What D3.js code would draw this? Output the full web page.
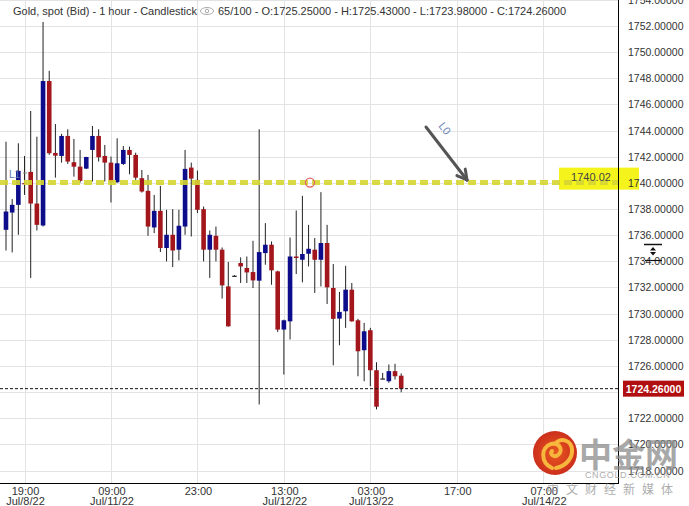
<!DOCTYPE html>
<html>
<head>
<meta charset="utf-8">
<script src="https://cdn.jsdelivr.net/npm/d3@7"></script>
<style>
  body { margin: 0; background: #fff; }
  svg { display: block; font-family: "Liberation Sans", Arial, sans-serif; }
</style>
</head>
<body>
<div class="canvas"></div>
<script>
// hourly candles, Jul 8 16:00 .. Jul 13 ~04:00 (65 bars)
const opens = [1736.41,1737.73,1738.32,1739.98,1740.84,1738.42,1736.74,1747.79,1742.29,1742.06,
  1743.59,1741.58,1741.24,1741.09,1742.52,1743.59,1742.06,1741.55,1740.05,1741.45,
  1742.52,1742.14,1740.36,1739.39,1736.59,1737.86,1735.02,1736.03,1734.89,1736.66,
  1741.17,1740.23,1737.99,1734.89,1735.95,1734.89,1732.08,1732.90,1733.87,1733.49,
  1733.18,1732.52,1734.63,1735.27,1733.23,1728.78,1729.41,1734.37,1734.12,1734.58,
  1734.89,1734.12,1735.40,1731.96,1729.62,1730.18,1731.83,1729.49,1727.20,1728.73,
  1725.67,1725.04,1724.83,1725.60,1725.25];
const highs = [1743.15,1738.76,1743.03,1742.06,1745.50,1743.53,1752.31,1748.57,1744.50,1743.75,
  1744.10,1743.36,1742.52,1742.00,1744.35,1744.10,1742.90,1742.01,1743.41,1742.82,
  1742.77,1742.31,1740.99,1740.61,1739.08,1739.77,1737.94,1737.99,1737.94,1742.52,
  1741.55,1740.94,1738.19,1736.36,1736.66,1735.06,1733.95,1732.95,1734.30,1734.37,
  1735.57,1744.10,1736.92,1735.52,1733.28,1729.54,1735.82,1737.89,1739.01,1736.79,
  1735.78,1739.29,1736.79,1733.79,1731.66,1733.66,1732.34,1729.60,1729.29,1728.91,
  1726.28,1725.47,1726.11,1726.16,1725.43];
const lows = [1734.83,1734.68,1736.03,1739.08,1732.73,1736.36,1736.66,1742.14,1740.40,1741.55,
  1741.45,1740.48,1740.02,1741.05,1740.10,1741.63,1740.10,1738.50,1740.00,1741.37,
  1740.66,1740.23,1739.26,1735.95,1736.16,1734.71,1733.99,1733.56,1734.07,1736.03,
  1735.90,1737.69,1733.99,1732.73,1733.99,1731.15,1729.00,1732.85,1732.34,1732.34,
  1731.96,1723.05,1733.74,1732.21,1728.60,1725.34,1728.02,1733.03,1732.39,1733.61,
  1731.58,1732.08,1730.74,1726.05,1727.58,1728.91,1729.38,1725.21,1724.83,1724.45,
  1722.67,1725.00,1724.71,1724.96,1723.98];
const closes = [1737.81,1738.32,1740.92,1739.96,1738.42,1736.79,1747.79,1742.27,1742.08,1743.59,
  1741.63,1741.24,1740.15,1741.98,1743.59,1741.96,1741.55,1740.05,1741.50,1742.52,
  1742.14,1740.40,1739.34,1736.66,1737.86,1735.02,1736.03,1734.83,1736.72,1741.07,
  1740.33,1737.94,1734.89,1736.03,1734.89,1732.16,1729.03,1732.90,1733.61,1733.15,
  1732.54,1734.71,1735.27,1733.31,1728.78,1729.49,1734.37,1734.25,1734.56,1734.96,
  1734.12,1735.40,1732.01,1729.60,1730.13,1731.83,1729.41,1727.12,1728.65,1725.67,
  1722.88,1725.04,1725.60,1725.21,1724.26];

// x axis: bar index of each label
const tickIdx = [3, 17, 31, 45, 59, 73, 87];
const timeLabels = ["19:00", "09:00", "23:00", "13:00", "03:00", "17:00", "07:00"];
const dateLabels = ["Jul/8/22", "Jul/11/22", "", "Jul/12/22", "Jul/13/22", "", "Jul/14/22"];
const priceTicks = d3.range(1718, 1756, 2);

const lineLevel = 1740.02;
const lastPrice = 1724.26;
const header1 = "Gold, spot (Bid) - 1 hour - Candlestick";
const header2 = "65/100 - O:1725.25000 - H:1725.43000 - L:1723.98000 - C:1724.26000";

const W = 689, H = 506;
const plotRight = 618, plotBottom = 483;

const svg = d3.select(".canvas").append("svg").attr("width", W).attr("height", H);
svg.append("rect").attr("width", W).attr("height", H).attr("fill", "#fff");

let x = d3.scaleLinear().domain([0, 64]).range([6, 401.2]);
let y = d3.scaleLinear().domain([1718, 1752]).range([470.5, 26]);

// grid
svg.append("g").selectAll("line").data(priceTicks).join("line")
  .attr("x1", 0).attr("x2", plotRight)
  .attr("y1", (d) => Math.round(y(d)) + 0.5).attr("y2", (d) => Math.round(y(d)) + 0.5)
  .attr("stroke", "#e3e3e3");
svg.append("g").selectAll("line").data(tickIdx).join("line")
  .attr("x1", (d) => Math.round(x(d)) + 0.5).attr("x2", (d) => Math.round(x(d)) + 0.5)
  .attr("y1", 0).attr("y2", plotBottom)
  .attr("stroke", "#e3e3e3");

// header
svg.append("text").attr("x", 13).attr("y", 15).attr("font-size", 11).attr("fill", "#333").text(header1);
let eye = svg.append("g").attr("transform", "translate(207,11)");
eye.append("ellipse").attr("rx", 6.5).attr("ry", 3.5).attr("fill", "none").attr("stroke", "#aaa");
eye.append("circle").attr("r", 1.8).attr("fill", "none").attr("stroke", "#aaa");
svg.append("text").attr("x", 218).attr("y", 15).attr("font-size", 11).attr("fill", "#333").text(header2);

// candles
const candles = opens.map((o, i) => ({ i: i, o: o, h: highs[i], l: lows[i], c: closes[i] }));
const bodyW = 4.6;
const colour = (d) => d.c > d.o ? "#0d0d8c" : (d.c < d.o ? "#a3161b" : "#222");

let g = svg.append("g");
g.selectAll("line.wick").data(candles).join("line").attr("class", "wick")
  .attr("x1", (d) => x(d.i)).attr("x2", (d) => x(d.i))
  .attr("y1", (d) => y(d.h)).attr("y2", (d) => y(d.l))
  .attr("stroke", "#222").attr("stroke-width", 1);
g.selectAll("rect").data(candles).join("rect")
  .attr("x", (d) => x(d.i) - bodyW / 2)
  .attr("y", (d) => y(Math.max(d.o, d.c)))
  .attr("width", bodyW)
  .attr("height", (d) => Math.max(1.2, Math.abs(y(d.o) - y(d.c))))
  .attr("fill", colour);

// current price dotted line
svg.append("line").attr("x1", 0).attr("x2", plotRight)
  .attr("y1", y(lastPrice)).attr("y2", y(lastPrice))
  .attr("stroke", "#111").attr("stroke-dasharray", "3,2");

// yellow level line + label
svg.append("rect").attr("x", 559).attr("y", y(lineLevel) - 15).attr("width", 80).attr("height", 22)
  .attr("fill", "#f4f41c");
svg.append("line").attr("x1", 0).attr("x2", plotRight)
  .attr("y1", y(lineLevel)).attr("y2", y(lineLevel))
  .attr("stroke", "#d6d633").attr("stroke-width", 5).attr("stroke-dasharray", "8,4").attr("opacity", 0.9);
svg.append("text").attr("x", 591).attr("y", y(lineLevel) - 2).attr("text-anchor", "middle")
  .attr("font-size", 11).attr("fill", "#444").text(lineLevel.toFixed(2));
svg.append("circle").attr("cx", 310).attr("cy", y(lineLevel)).attr("r", 4.5)
  .attr("fill", "none").attr("stroke", "#e06666").attr("stroke-width", 1.3);

// L1 marker at left
svg.append("text").attr("x", 9).attr("y", 178).attr("font-size", 10).attr("fill", "#5a78b0").text("L1");
svg.append("line").attr("x1", 23).attr("x2", 27).attr("y1", 173).attr("y2", 173).attr("stroke", "#888");

// arrow pointing at the line
let ax1 = 426, ay1 = 127, ax2 = 467, ay2 = 180;
svg.append("line").attr("x1", ax1).attr("y1", ay1).attr("x2", ax2).attr("y2", ay2)
  .attr("stroke", "#555").attr("stroke-width", 3).attr("stroke-linecap", "round");
let ang = Math.atan2(ay2 - ay1, ax2 - ax1);
[-0.5, 0.5].forEach((a) => {
  svg.append("line").attr("x1", ax2).attr("y1", ay2)
    .attr("x2", ax2 - 11 * Math.cos(ang + a)).attr("y2", ay2 - 11 * Math.sin(ang + a))
    .attr("stroke", "#555").attr("stroke-width", 3).attr("stroke-linecap", "round");
});
svg.append("text").attr("transform", "translate(438,126) rotate(52)")
  .attr("font-size", 11).attr("fill", "#6f86b8").text("L0");

// axes frame
svg.append("line").attr("x1", plotRight + 0.5).attr("x2", plotRight + 0.5).attr("y1", 0).attr("y2", plotBottom + 1)
  .attr("stroke", "#000");
svg.append("line").attr("x1", 0).attr("x2", plotRight + 1).attr("y1", plotBottom + 0.5).attr("y2", plotBottom + 0.5)
  .attr("stroke", "#000");

// right axis labels
svg.append("g").selectAll("text").data(priceTicks).join("text")
  .attr("x", 628).attr("y", (d) => y(d) + 4)
  .attr("font-size", 10.5).attr("fill", "#333")
  .text((d) => d.toFixed(5));

// last price tag
svg.append("rect").attr("x", 623).attr("y", y(lastPrice) - 8).attr("width", 61).attr("height", 16).attr("fill", "#b10f0f");
svg.append("text").attr("x", 653.5).attr("y", y(lastPrice) + 4).attr("text-anchor", "middle")
  .attr("font-size", 10.5).attr("font-weight", "bold").attr("fill", "#fff").text(lastPrice.toFixed(5));

// scale handle icon
let ic = svg.append("g").attr("stroke", "#111");
ic.append("line").attr("x1", 644).attr("x2", 662).attr("y1", 244.5).attr("y2", 244.5).attr("stroke-width", 1.5);
ic.append("line").attr("x1", 645).attr("x2", 662).attr("y1", 260.5).attr("y2", 260.5).attr("stroke-width", 1.2);
ic.append("path").attr("d", "M650,250.5 L653,247 L656,250.5 Z M650,252 L653,255.5 L656,252 Z").attr("fill", "#111").attr("stroke", "none");

// bottom axis labels
let xl = svg.append("g").attr("font-size", 11).attr("fill", "#333").attr("text-anchor", "middle");
xl.selectAll("text.t").data(tickIdx).join("text").attr("class", "t")
  .attr("x", (d) => x(d) + 1).attr("y", 495).text((d, i) => timeLabels[i]);
xl.selectAll("text.d").data(tickIdx).join("text").attr("class", "d")
  .attr("x", (d) => x(d) + 1).attr("y", 505).text((d, i) => dateLabels[i]);

// watermark
let wm = svg.append("g");
let grad = svg.append("defs").append("radialGradient").attr("id", "wmg");
grad.append("stop").attr("offset", "0%").attr("stop-color", "#e8581f");
grad.append("stop").attr("offset", "100%").attr("stop-color", "#cc2f1c");
wm.append("circle").attr("cx", 555).attr("cy", 453).attr("r", 22).attr("fill", "url(#wmg)");
wm.append("path")
  .attr("d", "M552,468 C540,462 541,447 551,444 C559,442 564,450 558,455 C554,458 549,454 552,451 M556,443 C562,437 571,441 572,449 C573,458 566,466 556,468")
  .attr("fill", "none").attr("stroke", "#f7b63c").attr("stroke-width", 4).attr("stroke-linecap", "round");
wm.append("text").attr("x", 579).attr("y", 467).attr("font-family", "Noto Sans CJK SC")
  .attr("font-size", 33).attr("font-weight", "bold").attr("fill", "#8c8c8c").attr("opacity", 0.75).text("中金网");
wm.append("text").attr("x", 585).attr("y", 478).attr("font-size", 9).attr("letter-spacing", 0.6)
  .attr("fill", "#9a9a9a").attr("opacity", 0.8).text("CNGOLD.COM.CN");
wm.append("text").attr("x", 547).attr("y", 494).attr("font-family", "Noto Sans CJK SC")
  .attr("font-size", 12).attr("letter-spacing", 7).attr("fill", "#9a9a9a").attr("opacity", 0.8).text("中文财经新媒体");
</script>
</body>
</html>
